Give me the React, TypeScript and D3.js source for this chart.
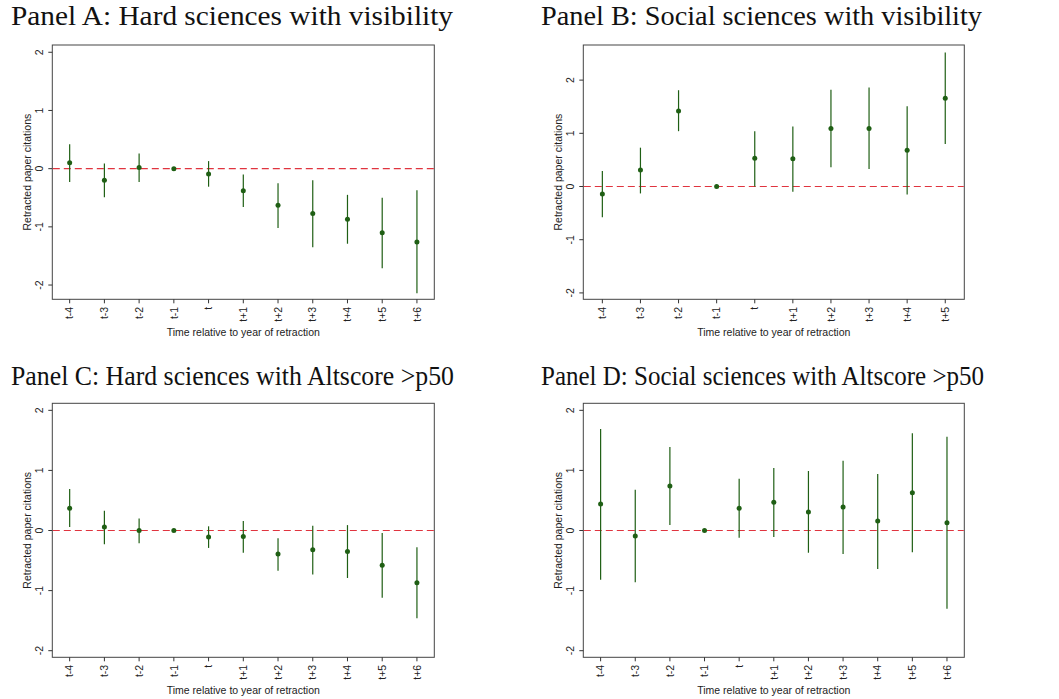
import React, { useRef, useEffect } from "react"
import * as d3 from "d3"

// tick labels
const periodsLong = ["t-4", "t-3", "t-2", "t-1", "t", "t+1", "t+2", "t+3", "t+4", "t+5", "t+6"]
const periodsShort = ["t-4", "t-3", "t-2", "t-1", "t", "t+1", "t+2", "t+3", "t+4", "t+5"]
const yTicks = [-2, -1, 0, 1, 2]

// Panel A: hard sciences with visibility
const estA = [0.1, -0.2, 0.02, 0, -0.09, -0.38, -0.63, -0.77, -0.87, -1.1, -1.26]
const hiA = [0.42, 0.09, 0.26, 0, 0.13, -0.1, -0.25, -0.2, -0.45, -0.5, -0.37]
const loA = [-0.23, -0.49, -0.23, 0, -0.31, -0.66, -1.02, -1.35, -1.29, -1.71, -2.14]

// Panel B: social sciences with visibility
const estB = [-0.14, 0.31, 1.42, 0, 0.53, 0.52, 1.09, 1.09, 0.68, 1.66]
const hiB = [0.29, 0.73, 1.81, 0, 1.04, 1.13, 1.82, 1.86, 1.51, 2.52]
const loB = [-0.58, -0.13, 1.04, 0, 0.0, -0.1, 0.36, 0.33, -0.15, 0.8]

// Panel C: hard sciences with Altscore >p50
const estC = [0.37, 0.06, 0.0, 0, -0.11, -0.1, -0.39, -0.32, -0.35, -0.58, -0.87]
const hiC = [0.69, 0.33, 0.2, 0, 0.07, 0.16, -0.13, 0.08, 0.09, -0.04, -0.28]
const loC = [0.06, -0.23, -0.21, 0, -0.29, -0.37, -0.67, -0.73, -0.79, -1.12, -1.46]

// Panel D: social sciences with Altscore >p50
const estD = [0.44, -0.09, 0.74, 0, 0.37, 0.47, 0.31, 0.39, 0.16, 0.63, 0.13]
const hiD = [1.69, 0.68, 1.39, 0, 0.86, 1.04, 0.99, 1.16, 0.94, 1.62, 1.56]
const loD = [-0.82, -0.86, 0.09, 0, -0.12, -0.11, -0.37, -0.39, -0.64, -0.36, -1.3]

const titles = [
  "Panel A: Hard sciences with visibility",
  "Panel B: Social sciences with visibility",
  "Panel C: Hard sciences with Altscore >p50",
  "Panel D: Social sciences with Altscore >p50",
]

const green = "#1f5f14"
const sans = "'Liberation Sans', Arial, Helvetica, sans-serif"

const panels = [
  { title: titles[0], labels: periodsLong, est: estA, hi: hiA, lo: loA, yDom: [-2.245, 2.125], left: 52.3, right: 434.3, top: 45, bottom: 299.3, tx: 11, ty: 25, tw: 442 },
  { title: titles[1], labels: periodsShort, est: estB, hi: hiB, lo: loB, yDom: [-2.12, 2.66], left: 583.3, right: 964.3, top: 45, bottom: 299.3, tx: 541, ty: 25, tw: 441 },
  { title: titles[2], labels: periodsLong, est: estC, hi: hiC, lo: loC, yDom: [-2.11, 2.117], left: 52.3, right: 434.3, top: 403.3, bottom: 657.3, tx: 11, ty: 385, tw: 443 },
  { title: titles[3], labels: periodsLong, est: estD, hi: hiD, lo: loD, yDom: [-2.11, 2.117], left: 583.3, right: 964.3, top: 403.3, bottom: 657.3, tx: 541, ty: 385, tw: 443 },
]

function App() {
  const ref = useRef<SVGSVGElement>(null)

  useEffect(() => {
    document.body.style.margin = "0"
    const svg = d3.select(ref.current)
    svg.selectAll("*").remove()

    panels.forEach(p => {
      const x = d3.scalePoint<string>().domain(p.labels).range([p.left, p.right]).padding(0.5)
      const y = d3.scaleLinear().domain(p.yDom).range([p.bottom, p.top])
      const g = svg.append("g")

      g.append("text")
        .attr("x", p.tx)
        .attr("y", p.ty)
        .attr("font-family", "'Liberation Serif', 'Times New Roman', serif")
        .attr("font-size", 27)
        .attr("textLength", p.tw)
        .attr("lengthAdjust", "spacingAndGlyphs")
        .attr("fill", "#111")
        .text(p.title)

      // frame
      g.append("rect")
        .attr("x", p.left)
        .attr("y", p.top)
        .attr("width", p.right - p.left)
        .attr("height", p.bottom - p.top)
        .attr("fill", "white")
        .attr("stroke", "#444")
        .attr("stroke-width", 1)

      // y axis
      yTicks.forEach(t => {
        g.append("line")
          .attr("x1", p.left - 4).attr("x2", p.left)
          .attr("y1", y(t)).attr("y2", y(t))
          .attr("stroke", "#333")
        g.append("text")
          .attr("transform", `translate(${p.left - 9},${y(t)}) rotate(-90)`)
          .attr("text-anchor", "middle")
          .attr("font-family", sans)
          .attr("font-size", 10.5)
          .attr("fill", "#222")
          .text(t)
      })
      g.append("text")
        .attr("transform", `translate(${p.left - 21.5},${(p.top + p.bottom) / 2}) rotate(-90)`)
        .attr("text-anchor", "middle")
        .attr("font-family", sans)
        .attr("font-size", 10.5)
        .attr("fill", "#222")
        .text("Retracted paper citations")

      // x axis
      p.labels.forEach(l => {
        g.append("line")
          .attr("x1", x(l)).attr("x2", x(l))
          .attr("y1", p.bottom).attr("y2", p.bottom + 4)
          .attr("stroke", "#333")
        g.append("text")
          .attr("transform", `translate(${x(l)! + 3.7},${p.bottom + 7.5}) rotate(-90)`)
          .attr("text-anchor", "end")
          .attr("font-family", sans)
          .attr("font-size", 10.5)
          .attr("fill", "#222")
          .text(l)
      })
      g.append("text")
        .attr("x", (p.left + p.right) / 2)
        .attr("y", p.bottom + 36.5)
        .attr("text-anchor", "middle")
        .attr("font-family", sans)
        .attr("font-size", 10.5)
        .attr("fill", "#222")
        .text("Time relative to year of retraction")

      // zero reference line
      g.append("line")
        .attr("x1", p.left + 0.5).attr("x2", p.right - 0.5)
        .attr("y1", y(0)).attr("y2", y(0))
        .attr("stroke", "#e0343f")
        .attr("stroke-width", 1.2)
        .attr("stroke-dasharray", "7,4")

      // confidence intervals
      g.selectAll(".ci")
        .data(p.labels)
        .join("line")
        .attr("class", "ci")
        .attr("x1", d => x(d)!).attr("x2", d => x(d)!)
        .attr("y1", (d, i) => y(p.lo[i])).attr("y2", (d, i) => y(p.hi[i]))
        .attr("stroke", green)
        .attr("stroke-width", 1.2)

      // point estimates
      g.selectAll(".pt")
        .data(p.labels)
        .join("circle")
        .attr("class", "pt")
        .attr("cx", d => x(d)!)
        .attr("cy", (d, i) => y(p.est[i]))
        .attr("r", 2.5)
        .attr("fill", green)
    })
  }, [])

  return <svg ref={ref} width={1059} height={699} style={{ display: "block", background: "white" }}></svg>
}

export default App
